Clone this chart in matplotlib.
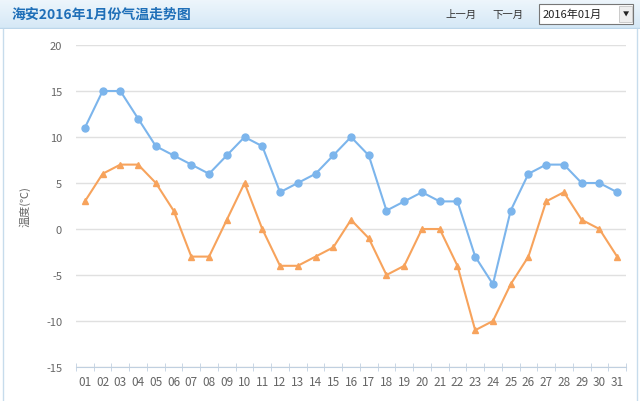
import matplotlib
matplotlib.use("Agg")
from matplotlib import pyplot as plt
from matplotlib.patches import Rectangle
import numpy as np

plt.rcParams['font.family'] = ['Noto Sans CJK SC', 'DejaVu Sans']

days = ["%02d" % d for d in range(1, 32)]
high = [11, 15, 15, 12, 9, 8, 7, 6, 8, 10, 9, 4, 5, 6, 8, 10, 8, 2, 3, 4, 3, 3, -3, -6, 2, 6, 7, 7, 5, 5, 4]
low = [3, 6, 7, 7, 5, 2, -3, -3, 1, 5, 0, -4, -4, -3, -2, 1, -1, -5, -4, 0, 0, -4, -11, -10, -6, -3, 3, 4, 1, 0, -3]
yticks = [-15, -10, -5, 0, 5, 10, 15, 20]

fig = plt.figure(figsize=(6.4, 4.02), dpi=100)
fig.patch.set_facecolor("white")

# header bar
grad = np.linspace(0, 1, 50).reshape(-1, 1)
hdr = fig.add_axes([0, 1 - 30 / 402, 1, 30 / 402])
hdr.imshow(grad, aspect="auto", cmap=matplotlib.colors.LinearSegmentedColormap.from_list("h", ["#eef6fc", "#d5e8f6"]),
           extent=[0, 1, 0, 1])
hdr.set_xlim(0, 1)
hdr.set_ylim(0, 1)
hdr.axis("off")
hdr.text(12 / 640, 0.5, "海安2016年1月份气温走势图", color="#1f6fb8", fontsize=10, fontweight="bold", va="center")
hdr.text(445 / 640, 0.5, "上一月", color="#333333", fontsize=7.5, va="center")
hdr.text(492 / 640, 0.5, "下一月", color="#333333", fontsize=7.5, va="center")
hdr.add_patch(Rectangle((539 / 640, 0.17), 94 / 640, 0.66, facecolor="white", edgecolor="#777777", lw=0.8))
hdr.text(543 / 640, 0.5, "2016年01月", color="#222222", fontsize=8, va="center")
hdr.add_patch(Rectangle((619 / 640, 0.24), 13 / 640, 0.52, facecolor="#eeeeee", edgecolor="#bbbbbb", lw=0.5))
hdr.text(625.5 / 640, 0.5, "▼", color="#222222", fontsize=4.5, va="center", ha="center")
hdr.plot([0, 1], [0.02, 0.02], color="#bcd6ea", lw=1)

# frame lines
fig.add_artist(plt.Line2D([3 / 640, 3 / 640], [0, 1 - 30 / 402], color="#c7dcec", lw=1))
fig.add_artist(plt.Line2D([637 / 640, 637 / 640], [0, 1 - 30 / 402], color="#c7dcec", lw=1))

ax = fig.add_axes([76 / 640, 1 - 368 / 402, 550 / 640, 322 / 402])
x = np.arange(1, 32)
ax.plot(x, high, color="#7cb5ec", lw=1.5, marker="o", markersize=5, zorder=3)
ax.plot(x, low, color="#f7a35c", lw=1.5, marker="^", markersize=5, zorder=3)

ax.set_xlim(0.5, 31.5)
ax.set_ylim(-15, 20)
ax.set_yticks(yticks)
ax.set_yticklabels([str(v) for v in yticks])
ax.set_xticks(x)
ax.set_xticklabels(days)
ax.set_xticks(np.arange(0.5, 32, 1), minor=True)
ax.grid(axis="y", color="#e0e0e0", lw=1)
for s in ["top", "right", "left"]:
    ax.spines[s].set_visible(False)
ax.spines["bottom"].set_color("#c0d0e0")
ax.tick_params(axis="y", length=0, colors="#666666", labelsize=8, pad=10)
ax.tick_params(axis="x", which="major", length=0, colors="#666666", labelsize=8.5, pad=6)
ax.tick_params(axis="x", which="minor", length=6, color="#c0d0e0", direction="inout")
ax.set_ylabel("温度(℃)", color="#666666", fontsize=8)
ax.yaxis.set_label_coords(-45 / 550, 0.5)

plt.savefig("out.png", dpi=100)
